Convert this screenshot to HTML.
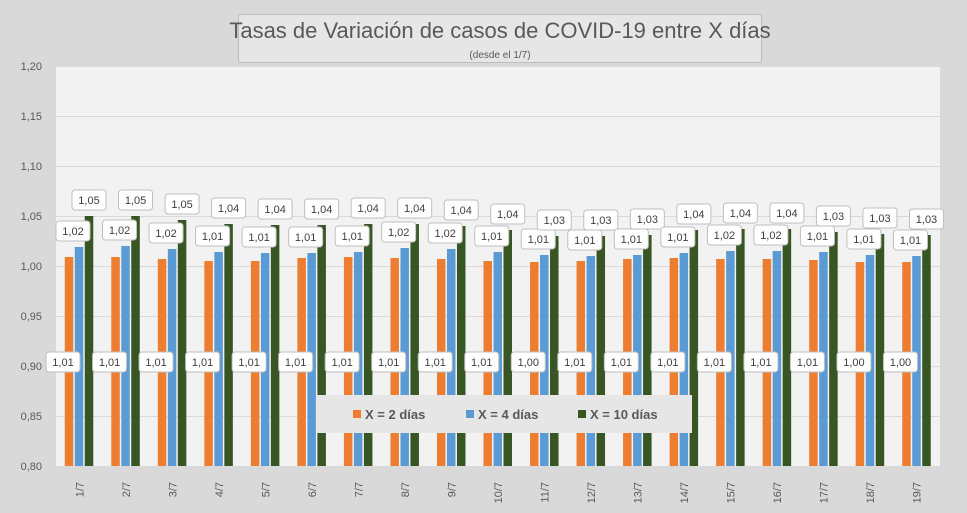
<!DOCTYPE html>
<html><head><meta charset="utf-8"><style>
html,body{margin:0;padding:0;background:#d9d9d9;}
svg{display:block;font-family:"Liberation Sans",sans-serif;}
</style></head><body>
<svg id="chart" width="967" height="513">
<rect x="0" y="0" width="967" height="513" fill="#d9d9d9"/>
<rect x="56" y="66" width="884" height="400" fill="#f2f2f2"/>
<g id="grid"></g><g id="bars"></g><g id="labels"></g><g id="axes"></g>
<g>
<rect x="238.5" y="14.5" width="523" height="48" fill="#e6e6e6" stroke="#bdbdbd"/>
<text x="500" y="38" text-anchor="middle" font-size="22" fill="#595959">Tasas de Variación de casos de COVID-19 entre X días</text>
<text x="500" y="58" text-anchor="middle" font-size="10" fill="#595959">(desde el 1/7)</text>
</g>
<g>
<rect x="316" y="395" width="376" height="38" fill="#e6e6e6"/>
<g><rect x="353" y="410" width="8" height="8" fill="#ed7d31"/><text x="365" y="419" font-size="13" font-weight="bold" fill="#595959">X = 2 días</text></g>
<g><rect x="466" y="410" width="8" height="8" fill="#5b9bd5"/><text x="478" y="419" font-size="13" font-weight="bold" fill="#595959">X = 4 días</text></g>
<g><rect x="578" y="410" width="8" height="8" fill="#375623"/><text x="590" y="419" font-size="13" font-weight="bold" fill="#595959">X = 10 días</text></g>
</g>
</svg>
<script>
const categories=["1/7","2/7","3/7","4/7","5/7","6/7","7/7","8/7","9/7","10/7","11/7","12/7","13/7","14/7","15/7","16/7","17/7","18/7","19/7"];
const seriesX2=[1.009,1.009,1.007,1.005,1.005,1.008,1.009,1.008,1.007,1.005,1.004,1.005,1.007,1.008,1.007,1.007,1.006,1.004,1.004];
const seriesX4=[1.019,1.020,1.017,1.014,1.013,1.013,1.014,1.018,1.017,1.014,1.011,1.010,1.011,1.013,1.015,1.015,1.014,1.011,1.010];
const seriesX10=[1.050,1.050,1.046,1.042,1.041,1.041,1.042,1.042,1.040,1.036,1.030,1.030,1.031,1.036,1.037,1.037,1.034,1.032,1.031];
const labelsX2=["1,01","1,01","1,01","1,01","1,01","1,01","1,01","1,01","1,01","1,01","1,00","1,01","1,01","1,01","1,01","1,01","1,01","1,00","1,00"];
const labelsX4=["1,02","1,02","1,02","1,01","1,01","1,01","1,01","1,02","1,02","1,01","1,01","1,01","1,01","1,01","1,02","1,02","1,01","1,01","1,01"];
const labelsX10=["1,05","1,05","1,05","1,04","1,04","1,04","1,04","1,04","1,04","1,04","1,03","1,03","1,03","1,04","1,04","1,04","1,03","1,03","1,03"];
const yTicks=[0.80,0.85,0.90,0.95,1.00,1.05,1.10,1.15,1.20];
const NS="http://www.w3.org/2000/svg";
const X0=56,X1=940,Y0=466,Y1=66,YMIN=0.8,YMAX=1.2;
const y=v=>Y0-(v-YMIN)/(YMAX-YMIN)*(Y0-Y1);
const gw=(X1-X0)/categories.length;
const gx=i=>X0+gw*i+gw/2;
function mk(tag,attrs,parent){const e=document.createElementNS(NS,tag);for(const k in attrs)e.setAttribute(k,attrs[k]);parent.appendChild(e);return e;}
const grid=document.getElementById('grid'),axes=document.getElementById('axes'),bars=document.getElementById('bars'),labels=document.getElementById('labels');
yTicks.forEach(t=>{
  if(t>YMIN){const l=mk('line',{x1:X0,x2:X1,y1:y(t)+0.5,y2:y(t)+0.5,stroke:'#d9d9d9','stroke-width':1},grid);
  
  }
  const tx=mk('text',{x:42,y:y(t)+4,'text-anchor':'end','font-size':11,fill:'#595959'},axes);
  tx.textContent=t.toFixed(2).replace('.',',');
  
  
});
const series=[[seriesX2,'#ed7d31',labelsX2],[seriesX4,'#5b9bd5',labelsX4],[seriesX10,'#375623',labelsX10]];
const bw=8.5,step=10;
function label(cx,cy,txt){
  const g=mk('g',{},labels);
  
  
  mk('rect',{x:cx-17,y:cy-10,width:34,height:20,rx:3,fill:'#ffffff',stroke:'#bfbfbf'},g);
  const t=mk('text',{x:cx,y:cy+4,'text-anchor':'middle','font-size':11,fill:'#404040'},g);
  t.textContent=txt;
}
categories.forEach((c,i)=>{
  series.forEach((s,j)=>{
    const v=s[0][i];const bx=gx(i)-14.5+j*step;
    const r=mk('rect',{x:bx,y:y(v),width:bw,height:Y0-y(v),fill:s[1]},bars);
    
    
    if(j===0) label(bx+bw/2-6,y(0.9)-4,s[2][i]);
    else label(bx+bw/2-(j===1?6:0),y(v)-(j===1?16:16),s[2][i]);
  });
  const t=mk('text',{transform:'translate('+(gx(i)+4)+',482) rotate(-90)','text-anchor':'end','font-size':11,fill:'#595959'},axes);
  t.textContent=c;
  
  
});
</script>
</body></html>
